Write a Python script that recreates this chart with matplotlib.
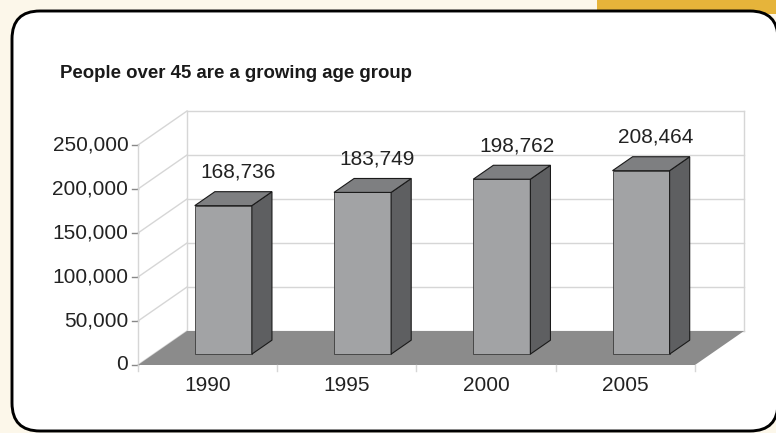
import matplotlib.pyplot as plt
from matplotlib.patches import FancyBboxPatch, Rectangle, Polygon

plt.rcParams['font.family'] = ['Liberation Sans', 'DejaVu Sans']

years = ['1990', '1995', '2000', '2005']
people = [168736, 183749, 198762, 208464]
yticks = [0, 50000, 100000, 150000, 200000, 250000]
title = 'People over 45 are a growing age group'

# 3d look: depth offset of the walls, in category / value units
DX = 0.352
DY = 38636
F0, F1 = 0.32, 0.73   # bar front/back depth fraction
W = 0.41              # bar width

fig = plt.figure(figsize=(7.76, 4.33), dpi=100)
fig.patch.set_facecolor('#fcf7ea')

# background frame
bg = fig.add_axes([0, 0, 1, 1])
bg.set_xlim(0, 776)
bg.set_ylim(433, 0)
bg.axis('off')
bg.add_patch(Rectangle((597, 0), 179, 14, color='#e6b43a', lw=0))
bg.add_patch(FancyBboxPatch((12, 11), 766, 420,
                            boxstyle='round,pad=0,rounding_size=28',
                            fc='white', ec='black', lw=2.1))

ax = fig.add_axes([0, 0, 1, 1])
ax.patch.set_alpha(0)
ax.set_xlim(-138 / 139.25, 638 / 139.25)
ax.set_ylim(-77273, 414773)
ax.axis('off')

n = len(years)
top = yticks[-1]
grid = '#d6d6d6'

# walls and gridlines
for v in yticks:
    ax.plot([0, DX], [v, v + DY], color=grid, lw=1, zorder=1)
    ax.plot([DX, n + DX], [v + DY, v + DY], color=grid, lw=1, zorder=1)
    ax.plot([-0.04, 0], [v, v], color='#888888', lw=1, zorder=1)
    ax.text(-0.07, v, f'{v:,}', ha='right', va='center', fontsize=15,
            color='#222222')
ax.plot([0, 0], [0, top], color=grid, lw=1, zorder=1)
ax.plot([DX, DX], [DY, top + DY], color=grid, lw=1, zorder=1)
ax.plot([n + DX, n + DX], [DY, top + DY], color=grid, lw=1, zorder=1)

# floor
ax.add_patch(Polygon([(0, 0), (n, 0), (n + DX, DY), (DX, DY)],
                     closed=True, fc='#8b8b8b', ec='none', zorder=2))
for i in range(n + 1):
    ax.plot([i, i], [0, -7000], color=grid, lw=1, zorder=2)

for i, (yr, v) in enumerate(zip(years, people)):
    c = i + 0.5
    ax.text(c, -12500, yr, ha='center', va='top', fontsize=15,
            color='#222222')
    x0 = c - W / 2 + F0 * DX
    y0 = F0 * DY
    ddx = (F1 - F0) * DX
    ddy = (F1 - F0) * DY
    front = [(x0, y0), (x0 + W, y0), (x0 + W, y0 + v), (x0, y0 + v)]
    side = [(x0 + W, y0), (x0 + W + ddx, y0 + ddy),
            (x0 + W + ddx, y0 + v + ddy), (x0 + W, y0 + v)]
    roof = [(x0, y0 + v), (x0 + W, y0 + v),
            (x0 + W + ddx, y0 + v + ddy), (x0 + ddx, y0 + v + ddy)]
    ax.add_patch(Polygon(front, closed=True, fc='#a2a3a5', ec='#3a3a3a',
                         lw=0.6, zorder=3))
    ax.add_patch(Polygon(side, closed=True, fc='#5e5f61', ec='#1a1a1a',
                         lw=0.8, zorder=3))
    ax.add_patch(Polygon(roof, closed=True, fc='#7e7f81', ec='#1a1a1a',
                         lw=0.8, zorder=3))
    ax.text(c + 0.22, v + y0 + 38000, f'{v:,}', ha='center', va='center',
            fontsize=15, color='#222222', zorder=4)

fig.text(60 / 776, 1 - 73 / 433, title, ha='left', va='center',
         fontsize=13.4, fontweight='bold', color='#1a1a1a')

fig.savefig('out.png', dpi=100, facecolor=fig.get_facecolor())
